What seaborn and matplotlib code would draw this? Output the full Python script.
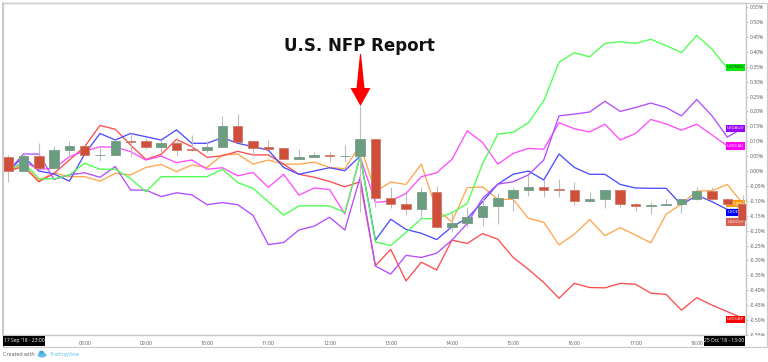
import matplotlib
matplotlib.use("Agg")
import matplotlib.pyplot as plt
from matplotlib.patches import Rectangle, Polygon, Ellipse
from matplotlib.transforms import blended_transform_factory
import numpy as np
import pandas as pd
import seaborn as sns

# percent change per 15 minute bar
usdgbp = [0, .015, -.036, -.008, .037, .082, .153, .140, .087, .039, .056, .106, .082, .046, .051, .066, .054,
          .054, .023, -.011, -.021, -.035, -.053, -.036, -.318, -.263, -.369, -.306, -.332, -.232, -.243, -.210,
          -.229, -.290, -.330, -.374, -.427, -.377, -.391, -.392, -.377, -.380, -.410, -.414, -.467, -.425, -.450,
          -.472, -.494]
usdeur = [0, .048, 0, -.010, -.034, .057, .126, .104, .126, .115, .104, .138, .093, .093, .112, .093, .082,
          .070, .012, -.011, 0, .011, .001, .050, -.232, -.162, -.196, -.209, -.230, -.187, -.159, -.103,
          -.044, -.011, 0, -.030, .057, .012, -.011, -.011, -.045, -.057, -.058, -.058, -.114, -.081, -.103,
          -.129, -.129]
usdnzd = [0, .031, -.026, -.026, -.013, .026, .006, .006, -.025, -.070, -.019, -.019, -.019, -.019, .006, -.039,
          -.058, -.103, -.148, -.117, -.117, -.117, -.139, .050, -.238, -.250, -.206, -.160, -.160, -.140, -.109,
          .024, .124, .130, .162, .235, .365, .397, .383, .428, .434, .428, .442, .421, .397, .455, .409,
          .345, .350]
usdcad = [0, .031, .006, .009, .048, .067, .081, .080, .065, .037, .050, .028, .037, .006, .011, -.016, -.005,
          -.055, -.011, -.081, -.057, -.062, -.144, .048, -.105, -.101, -.075, -.019, -.006, .039, .135, .096,
          .023, .059, .076, .073, .162, .142, .131, .157, .104, .126, .173, .158, .137, .157, .121,
          .084, .084]
usdaud = [0, .057, .057, -.028, -.013, -.006, -.021, .015, -.064, -.064, -.086, -.073, -.080, -.113, -.106, -.113,
          -.149, -.247, -.240, -.198, -.185, -.155, -.198, -.021, -.319, -.346, -.283, -.290, -.276, -.232, -.176,
          -.092, -.044, -.036, -.013, .037, .185, .191, .198, .234, .200, .213, .228, .213, .185, .240, .185,
          .114, .143]
usdjpy = [0, .020, -.032, -.006, -.019, -.019, -.034, -.008, -.013, .012, .022, -.002, .020, .012, .054, .057, .023,
          .037, .023, .023, .030, .012, .008, .087, -.069, -.037, -.045, .023, -.131, -.170, -.056, -.053,
          -.095, -.095, -.159, -.172, -.248, -.212, -.163, -.217, -.190, -.215, -.241, -.145, -.111, -.067, -.066,
          -.045, -.109]

# USDCHF candles
opens = [.046, .001, .051, .010, .072, .083, .054, .053, .102, .100, .081, .093, .073, .072, .079, .151, .101,
         .079, .077, .039, .048, .054, .050, .051, .106, -.092, -.111, -.126, -.070, -.187, -.176, -.154,
         -.116, -.089, -.063, -.055, -.060, -.063, -.102, -.095, -.065, -.112, -.119, -.113, -.112, -.095, -.066,
         -.095, -.110]
closes = [.001, .051, .010, .070, .083, .054, .054, .102, .098, .081, .093, .072, .070, .079, .151, .098, .078,
          .075, .040, .048, .054, .049, .050, .106, -.091, -.111, -.126, -.070, -.187, -.176, -.154, -.116,
          -.089, -.063, -.055, -.063, -.064, -.101, -.095, -.065, -.112, -.119, -.113, -.111, -.095, -.066, -.095,
          -.110, -.164]
highs = [.054, .063, .093, .084, .101, .083, .085, .104, .126, .110, .104, .110, .121, .102, .185, .191, .101,
         .104, .077, .073, .063, .065, .087, .219, .106, -.053, -.075, -.055, -.050, -.142, -.125, -.092,
         -.075, -.058, -.013, -.030, -.028, -.036, -.069, -.064, -.064, -.109, -.105, -.095, -.092, -.055, -.055,
         -.089, -.081]
lows = [-.036, .001, .010, .010, .048, .054, .032, .053, .050, .073, .065, .050, .067, .065, .079, .098, .054,
        .075, .040, .039, .048, .031, .031, -.136, -.120, -.125, -.148, -.162, -.192, -.204, -.187, -.183,
        -.179, -.133, -.083, -.086, -.086, -.114, -.103, -.125, -.122, -.133, -.145, -.115, -.140, -.097, -.097,
        -.112, -.164]

time_labels = ["08:00", "09:00", "10:00", "11:00", "12:00", "13:00", "14:00", "15:00", "16:00", "17:00", "18:00"]
price_ticks = [.55, .50, .45, .40, .35, .30, .25, .20, .15, .10, .05, 0, -.05, -.10, -.15, -.20, -.25, -.30, -.35,
               -.40, -.45, -.50, -.55]
pair_names = ["USDJPY", "USDGBP", "USDEUR", "USDCAD", "USDAUD", "USDNZD"]
pair_series = [usdjpy, usdgbp, usdeur, usdcad, usdaud, usdnzd]
pair_colors = ["#ffa64d", "#ff4d4d", "#4d4dff", "#ff4dff", "#b34dff", "#4dff4d"]

W, H = 768, 362
GREY = "#c6c6c6"


def fx(px):
    return px / W


def fy(py):
    return 1 - py / H


sns.set_style("white")
plt.rcParams["font.family"] = ["Open Sans", "DejaVu Sans"]

fig = plt.figure(figsize=(W / 100, H / 100), dpi=100)
ax = fig.add_axes([fx(3), fy(335), fx(743), (335 - 3) / H])

frames = []
for name, values in zip(pair_names, pair_series):
    frames.append(pd.DataFrame({"bar": np.arange(len(values)), "pct": values, "pair": name}))
df = pd.concat(frames)

sns.lineplot(data=df, x="bar", y="pct", hue="pair", hue_order=pair_names, palette=pair_colors,
             linewidth=0.95, legend=False, estimator=None, ax=ax, zorder=3)

# candles on top of the lines
bars = np.arange(len(opens))
o = np.array(opens)
c = np.array(closes)
is_up = c >= o
colors = np.where(is_up, "#6b9e80", "#d04f3a")
edges = np.where(is_up, "#7d9a88", "#cf7a6b")
ax.vlines(bars, lows, highs, color="#bdbdbd", linewidth=0.8, zorder=6)
ax.bar(bars, np.abs(c - o), bottom=np.minimum(o, c), width=0.62, color=colors, edgecolor=edges,
       linewidth=0.6, zorder=7)

ax.set_xlabel("")
ax.set_ylabel("")

ax.set_xticks(np.arange(5, 5 + 4 * len(time_labels), 4))
ax.set_xticklabels(time_labels)
ax.set_yticks(price_ticks)
ax.set_yticklabels([f"{v:.2f}%" if v != 0 else "0.00%" for v in price_ticks])
ax.set_xlim(-0.34, 48.22)
ax.set_ylim(-.5503, .5638)
ax.yaxis.tick_right()
ax.tick_params(axis="both", labelsize=3.6, labelcolor="#555555", color="#aaaaaa", length=1.5, width=0.5, pad=1.2)
ax.tick_params(axis="x", pad=2.5)
for side in ax.spines:
    ax.spines[side].set_color(GREY)
    ax.spines[side].set_linewidth(1.0)
    ax.spines[side].set_visible(True)
ax.spines["left"].set_linewidth(1.3)

# value labels at the right edge of the plot
trans = blended_transform_factory(ax.transAxes, ax.transData)
end_labels = [("USDNZD", .348, "#00ee00", "#333333"), ("USDAUD", .143, "#9900ff", "white"),
              ("USDCAD", .084, "#ff00ff", "white"), ("USDJPY", -.110, "#ff9900", "white"),
              ("USDEUR", -.138, "#0000ff", "white"), ("USDCHF", -.171, "#d9604f", "white"),
              ("USDGBP", -.497, "#ff0000", "white")]
label_left = (726 - 3) / 743
label_width = 19 / 743
for name, value, color, text_color in end_labels:
    ax.add_patch(Rectangle((label_left, value - .012), label_width, .024, transform=trans, facecolor=color,
                           edgecolor="none", zorder=5))
    ax.text(label_left + label_width / 2, value, name, transform=trans, ha="center", va="center",
            fontsize=3.2, color=text_color, zorder=5)

# NFP annotation
fig.text(fx(359.5), fy(51), "U.S. NFP Report", ha="center", va="baseline", fontsize=12, fontweight="bold",
         family="DejaVu Sans", color="#111111", zorder=12)
arrow_px = [(360, 54), (361, 54), (364.5, 88), (370.5, 88), (360.5, 106), (350.5, 88), (356.5, 88)]
fig.add_artist(Polygon([(fx(a), fy(b)) for a, b in arrow_px], closed=True, facecolor="#ff0000", edgecolor="none",
                       transform=fig.transFigure, zorder=12))

# outer frame, hiding the bottom edge of the last price label
fig.add_artist(Rectangle((fx(747), fy(346)), fx(19), (346 - 335.5) / H, facecolor="white", edgecolor="none",
                         transform=fig.transFigure, zorder=10))
fig.add_artist(Rectangle((fx(2.5), fy(347)), fx(764.5), (347 - 2.5) / H, facecolor="none", edgecolor="#cccccc",
                         linewidth=0.9, transform=fig.transFigure, zorder=10))

# date boxes on the time axis
for left, right, text in [(3, 45, "17 Sep '18 - 23:00"), (704, 745, "25 Oct '18 - 13:00")]:
    fig.add_artist(Rectangle((fx(left), fy(345.5)), fx(right - left), 10 / H, facecolor="black", edgecolor="none",
                             transform=fig.transFigure, zorder=11))
    fig.text(fx((left + right) / 2), fy(340.7), text, ha="center", va="center", fontsize=3.6, color="white", zorder=12)

# footer
fig.text(fx(3), fy(354.5), "Created with", ha="left", va="center", fontsize=3.8, color="#555555")
fig.text(fx(50), fy(354.5), "TradingView", ha="left", va="center", fontsize=3.8, color="#62bfe8")
fig.add_artist(Ellipse((fx(42), fy(355)), fx(9), 5 / H, facecolor="#62bfe8", edgecolor="none",
                       transform=fig.transFigure))
fig.add_artist(Ellipse((fx(41.5), fy(352.5)), fx(5), 4 / H, facecolor="#4aa8d8", edgecolor="none",
                       transform=fig.transFigure))

fig.savefig("out.png", dpi=100)
